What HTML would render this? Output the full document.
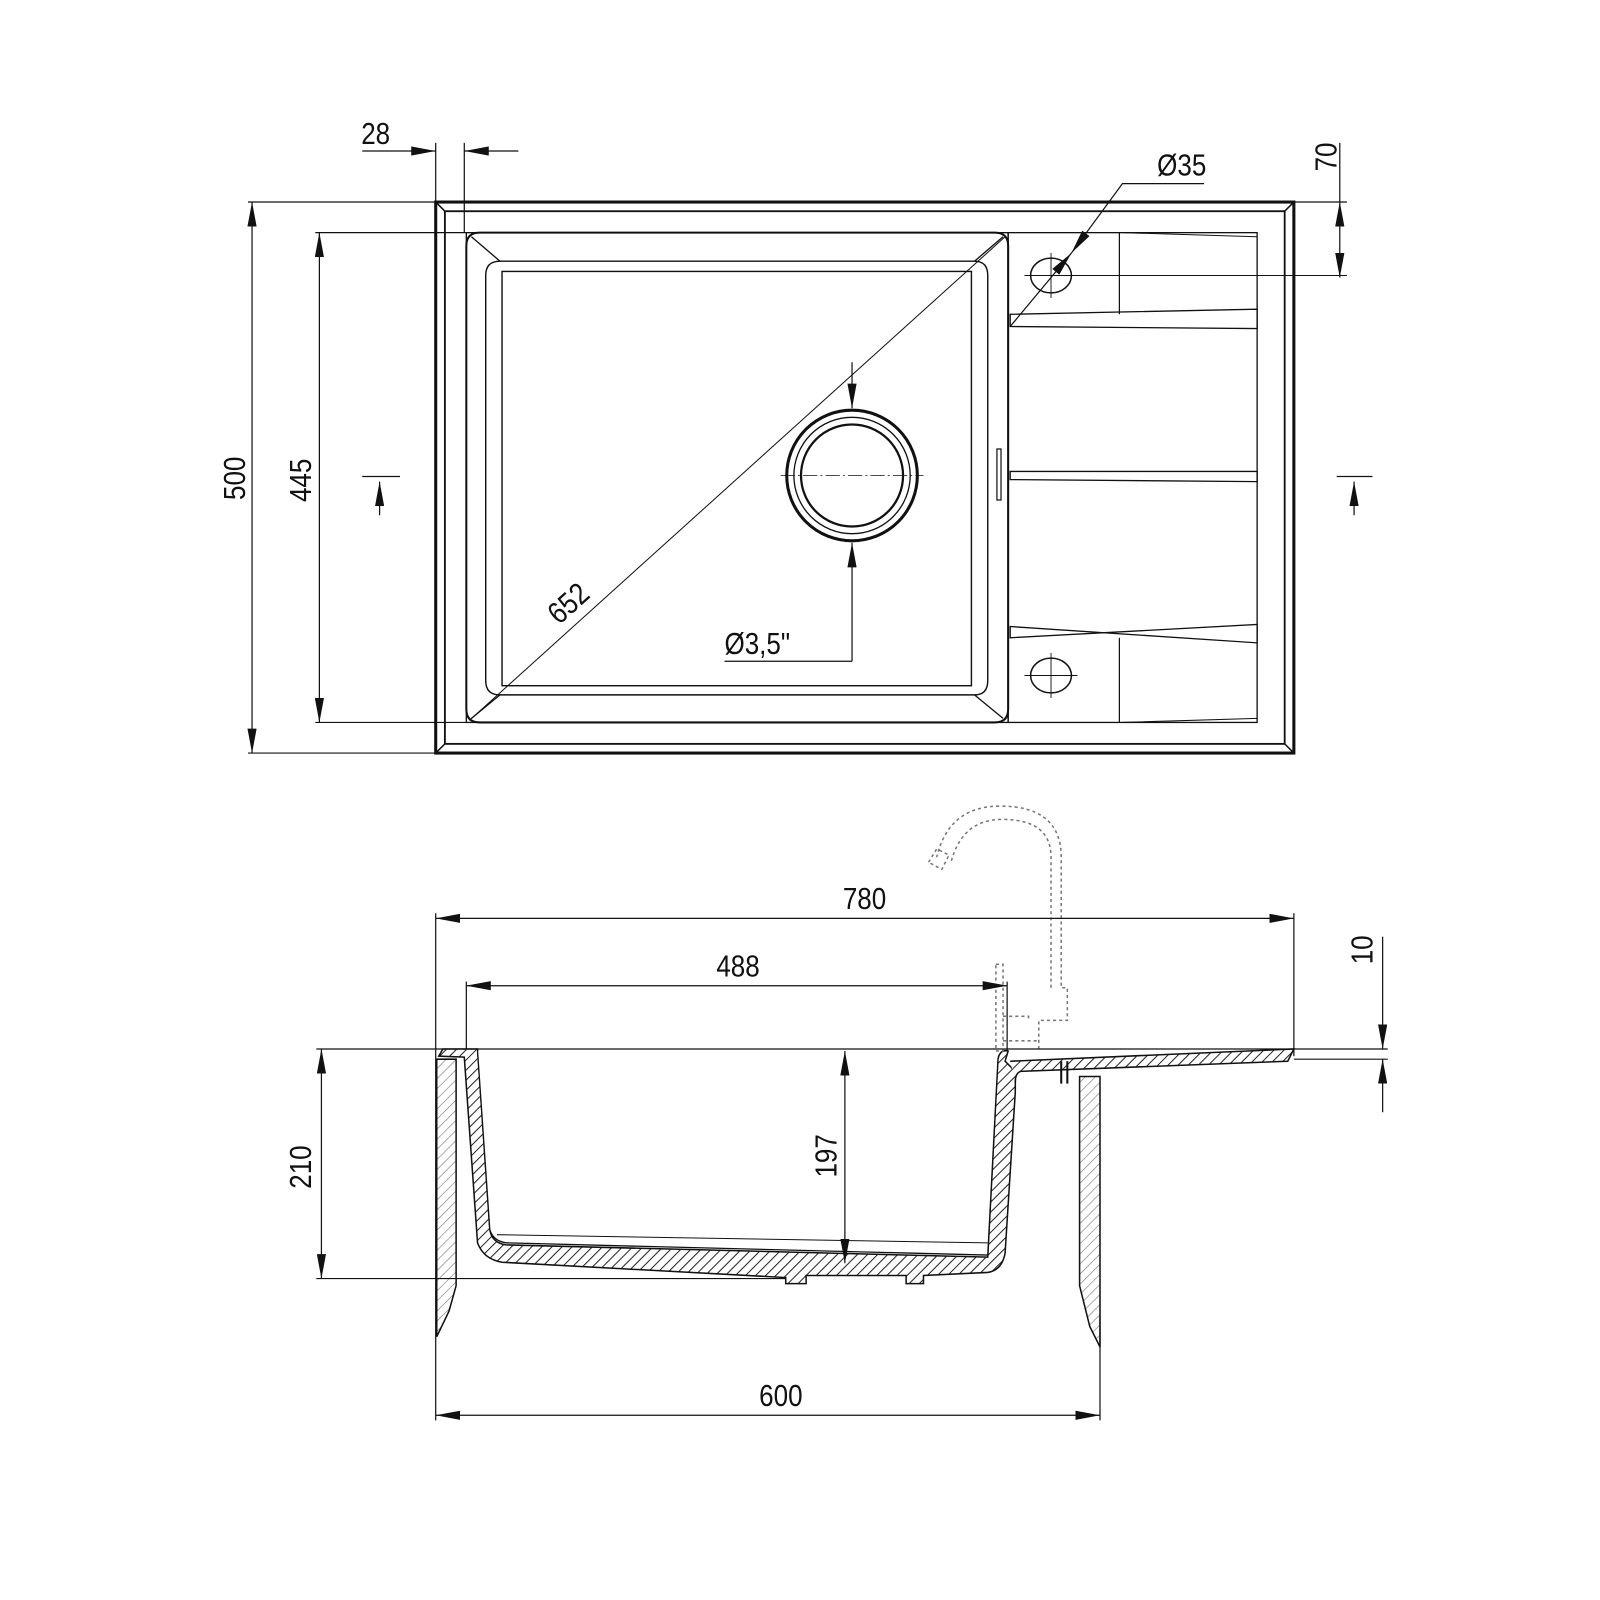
<!DOCTYPE html>
<html><head><meta charset="utf-8"><style>html,body{margin:0;padding:0;background:#fff}svg{display:block}
text{font-family:"Liberation Sans Narrow","Liberation Sans",sans-serif;font-size:30px;fill:#111}</style></head><body>
<svg width="1600" height="1600" viewBox="0 0 1600 1600" xmlns="http://www.w3.org/2000/svg">
<defs>
<pattern id="h" width="7" height="7" patternUnits="userSpaceOnUse" patternTransform="rotate(45)"><rect width="7" height="7" fill="#fff"/><line x1="0" y1="0" x2="0" y2="7" stroke="#222" stroke-width="2"/></pattern>
<pattern id="h2" width="7" height="7" patternUnits="userSpaceOnUse" patternTransform="rotate(45)"><rect width="7" height="7" fill="#fff"/><line x1="0" y1="0" x2="0" y2="7" stroke="#777" stroke-width="1.2"/></pattern>
<marker id="a" viewBox="0 0 24 9" refX="24" refY="4.5" markerWidth="24" markerHeight="9" markerUnits="userSpaceOnUse" orient="auto-start-reverse"><path d="M0,0L24,4.5L0,9z" fill="#111"/></marker>
</defs>
<g transform="scale(1.0204)" fill="none" stroke="#111">
<!-- TOP VIEW -->
<rect x="427" y="198" width="841" height="540" stroke-width="3"/>
<rect x="436" y="207" width="823" height="522" stroke-width="1.8"/>
<path d="M427,198L436,207M1268,198L1259,207M427,738L436,729M1268,738L1259,729" stroke-width="1.5"/>
<rect x="457" y="228" width="775" height="480" stroke-width="1.3"/>
<path d="M470,228H975Q988,228 988,241V695Q988,708 975,708H470Q457,708 457,695V241Q457,228 470,228Z" stroke-width="2"/>
<path d="M490,256H955Q968,256 968,270V667Q968,681 955,681H490Q476,681 476,667V270Q476,256 490,256Z" stroke-width="1.4"/>
<rect x="492" y="266" width="460" height="406" stroke-width="1.4"/>
<path d="M462,232L490,256M983,232L955,256M462,704L490,681M983,704L955,681" stroke-width="1.3"/>
<circle cx="835" cy="466" r="64" stroke-width="3"/>
<circle cx="835" cy="466" r="57" stroke-width="1.3"/>
<circle cx="835" cy="466" r="50" stroke-width="2.2"/>
<path d="M765,466H905" stroke-width="0.8" stroke-dasharray="14,3,2,3"/>
<path d="M988,228V708" stroke-width="1.5"/>
<path d="M1097,228V308M1097,625V708" stroke-width="1.2"/>
<path d="M990,308L1232,303V322L990,320Z" stroke-width="1.3"/>
<path d="M990,462H1232V472L990,470Z" stroke-width="1.3"/>
<path d="M990,614L1232,630V612L990,625Z" stroke-width="1.3"/>
<path d="M1100,228L1232,232M1100,708L1232,704" stroke-width="1"/>
<rect x="977" y="440" width="4" height="50" stroke-width="1.2"/>
<ellipse cx="1030" cy="270" rx="20" ry="17" stroke-width="1.5"/>
<ellipse cx="1030" cy="662" rx="20" ry="17" stroke-width="1.5"/>
<path d="M1004,270H1320M1030,248V292M1004,662H1056M1030,640V684" stroke-width="0.9"/>
<!-- dims top -->
<g stroke-width="1.2">
<path d="M247,198V738" marker-start="url(#a)" marker-end="url(#a)"/>
<path d="M243,198H427M243,738H427M309,228H457M309,708H457"/>
<path d="M313,228V708" marker-start="url(#a)" marker-end="url(#a)"/>
<path d="M427,140V198M455,140V228"/>
<path d="M355,148H427" marker-end="url(#a)"/><path d="M508,148H455" marker-end="url(#a)"/>
<path d="M1268,198H1320"/>
<path d="M1313,140V198"/>
<path d="M1313,198V272" marker-start="url(#a)" marker-end="url(#a)"/>
<path d="M1180,180H1100L1050,248" marker-end="url(#a)"/>
<path d="M1050,248L990,320" marker-start="url(#a)"/>
<path d="M460,706L985,232" stroke-width="1"/>
<path d="M835,355V400" marker-end="url(#a)"/><path d="M835,648V532" marker-end="url(#a)"/>
<path d="M710,648H835"/>
<path d="M355,467H392M372,505V472" marker-end="url(#a)"/>
<path d="M1310,467H1345M1327,505V472" marker-end="url(#a)"/>
</g>
<!-- SECTION VIEW -->
<path d="M428,1038H447V1260L440,1285L428,1310Z" fill="url(#h2)" stroke-width="1.5"/>
<path d="M1058,1055H1078V1320L1068,1300L1058,1260Z" fill="url(#h2)" stroke-width="1.5"/>
<path d="M430,1035L434,1028H468L480,1205Q482,1218 496,1220L968,1232L978,1038Q980,1028 988,1030L985,1040L995,1050V1070L985,1228Q982,1245 968,1247L905,1250V1258H888V1250H790V1258H770V1252L492,1237Q474,1234 468,1218L455,1036Z" fill="url(#h)" stroke-width="1.5"/>
<path d="M468,1030L480,1205Q483,1216 496,1218L968,1230L978,1038" fill="#fff" stroke-width="1.3"/>
<path d="M487,1210L968,1218" stroke-width="1"/>
<path d="M990,1040L1268,1028L1262,1040L1000,1050Q995,1052 995,1060" fill="url(#h)" stroke-width="1.5"/>
<path d="M1040,1040V1062M1046,1040V1062" stroke-width="2"/>
<g stroke="#777" stroke-width="1.5" stroke-dasharray="3,3">
<path d="M1018,1028V1000H1046V968H1040V840Q1040,790 980,790Q930,790 918,840"/>
<path d="M1030,968V840Q1030,803 982,803Q943,803 932,845"/>
<path d="M910,845L918,832L930,838L923,852Z"/>
<path d="M976,945H983V1030H976Z"/>
<path d="M983,996H1008V1000M983,1020H1018"/>
</g>
<g stroke-width="1.2">
<path d="M427,895V1392M1268,895V1035M457,962V1028M987,962V1030M1078,1290V1392"/>
<path d="M427,900H1268" marker-start="url(#a)" marker-end="url(#a)"/>
<path d="M457,966H987" marker-start="url(#a)" marker-end="url(#a)"/>
<path d="M427,1387H1078" marker-start="url(#a)" marker-end="url(#a)"/>
<path d="M310,1028H1360M310,1253H770"/>
<path d="M315,1028V1253" marker-start="url(#a)" marker-end="url(#a)"/>
<path d="M828,1030V1238" marker-start="url(#a)" marker-end="url(#a)"/>
<path d="M1355,918V1028" marker-end="url(#a)"/><path d="M1355,1090V1038" marker-end="url(#a)"/>
<path d="M1268,1038H1360"/>
</g>
</g>
<g transform="scale(1.0204)">
<text transform="translate(354,141) scale(0.85,1)">28</text>
<text transform="translate(1134,172) scale(0.85,1)">Ø35</text>
<text transform="translate(1310,168) rotate(-90) scale(0.85,1)">70</text>
<text transform="translate(240,490) rotate(-90) scale(0.85,1)">500</text>
<text transform="translate(305,492) rotate(-90) scale(0.85,1)">445</text>
<text transform="translate(548,613) rotate(-42) scale(0.85,1)">652</text>
<text transform="translate(710,641) scale(0.85,1)">Ø3,5"</text>
<text transform="translate(826,891) scale(0.85,1)">780</text>
<text transform="translate(702,957) scale(0.85,1)">488</text>
<text transform="translate(305,1165) rotate(-90) scale(0.85,1)">210</text>
<text transform="translate(820,1154) rotate(-90) scale(0.85,1)">197</text>
<text transform="translate(1345,945) rotate(-90) scale(0.85,1)">10</text>
<text transform="translate(744,1378) scale(0.85,1)">600</text>
</g>
</svg>
</body></html>
